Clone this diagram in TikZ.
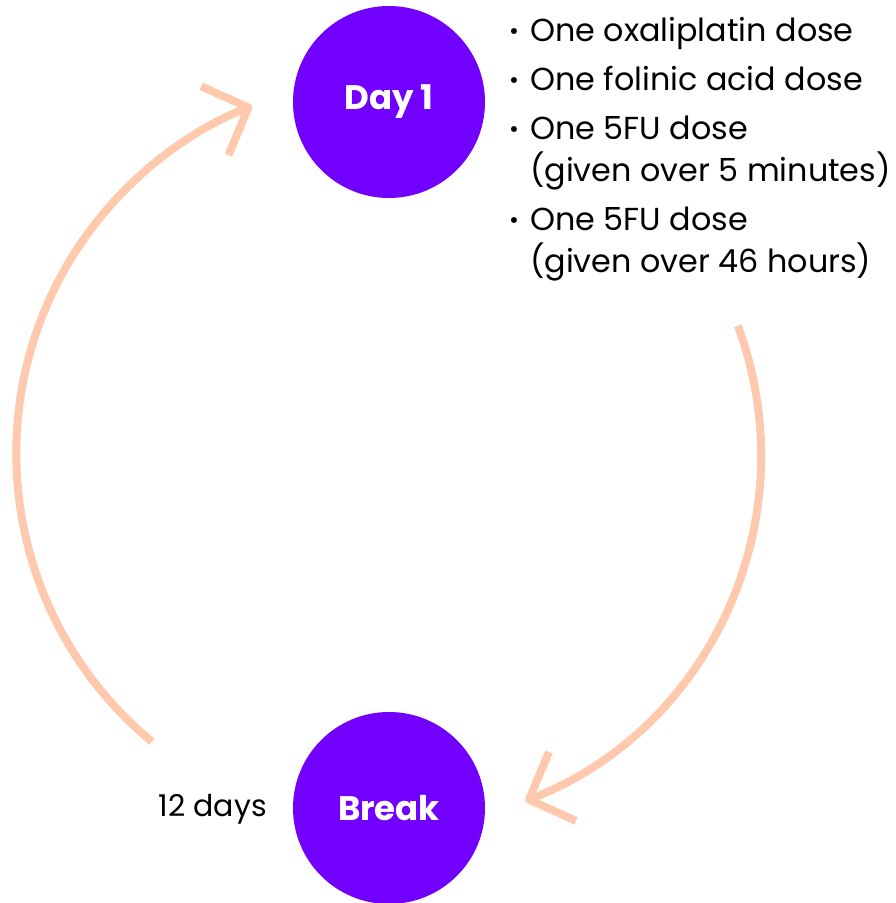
\documentclass[tikz,border=0pt]{standalone}
\usepackage{fontspec}
\setmainfont{Poppins}
\usetikzlibrary{arrows.meta,calc}
\definecolor{violet}{HTML}{7200FF}
\definecolor{peach}{HTML}{FFC9AE}
\begin{document}
\begin{tikzpicture}[x=1pt,y=1pt,
  phase/.style={circle,fill=violet,minimum size=192pt,inner sep=0pt,text=white,font=\fontsize{34}{40}\selectfont\bfseries},
  txt/.style={anchor=base west,inner sep=0pt,font=\fontsize{31.8}{38}\selectfont},
  bul/.style={anchor=base west,inner sep=0pt,font=\fontsize{24}{26}\selectfont},
  cycle/.style={draw=peach,line width=8pt,-{Straight Barb[length=36pt,width=74pt,line join=round]}}]
\useasboundingbox (0,0) rectangle (896,903);
\node[phase] (day) at (389,801) {Day 1};
\node[phase] (brk) at (389,95) {Break};
\coordinate (ctr) at (389,448);
\coordinate (ls) at ($(ctr)+(230.4:372)$);
\coordinate (rs) at ($(ctr)+(20.3:372)$);
\draw[cycle] (ls) arc[start angle=230.4,end angle=111.7,radius=374] coordinate (le);
\draw[cycle] (rs) arc[start angle=20.3,end angle=-68.5,radius=372] coordinate (re);
\node[txt] (t1) at (530,861) {One oxaliplatin dose};
\node[txt] (t2) at (530,812) {One folinic acid dose};
\node[txt] (t3) at (530,763) {One 5FU dose};
\node[txt] (t3b) at (530,721) {(given over 5 minutes)};
\node[txt] (t4) at (530,672) {One 5FU dose};
\node[txt] (t4b) at (530,630) {(given over 46 hours)};
\foreach \y/\n in {861/b1,812/b2,763/b3,672/b4}
  \node[bul] (\n) at (509,\y+2) {•};
\node[txt,anchor=base east,font=\fontsize{30}{36}\selectfont] (days) at (267,86) {12 days};
\end{tikzpicture}
\end{document}
